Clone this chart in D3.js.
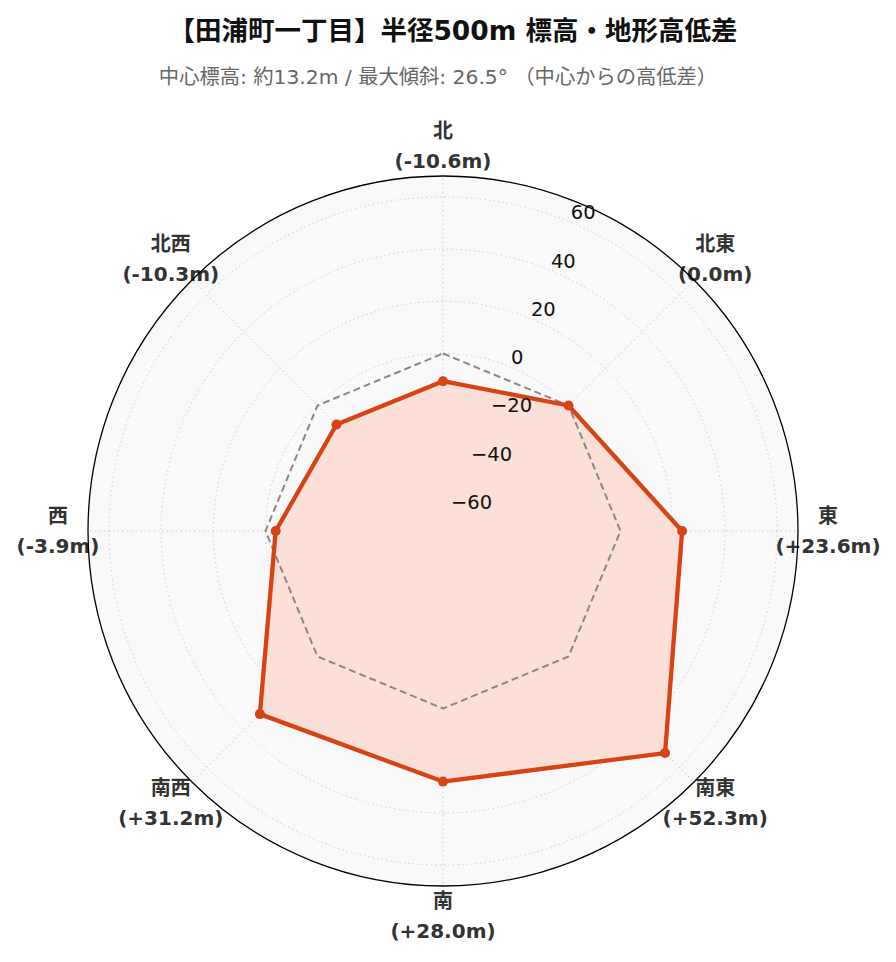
<!DOCTYPE html>
<html><head><meta charset="utf-8">
<script src="https://cdn.jsdelivr.net/npm/d3@7"></script>
<style>body{margin:0;background:#fff}</style>
</head><body>
<script>
const directions = ["北","北東","東","南東","南","南西","西","北西"];
const diffs = [-10.6, 0.0, 23.6, 52.3, 28.0, 31.2, -3.9, -10.3];
const radialTicks = [-60,-40,-20,0,20,40,60];
const titleText = "【田浦町一丁目】半径500m 標高・地形高低差";
const subtitleText = "中心標高: 約13.2m / 最大傾斜: 26.5° （中心からの高低差）";

const W = 896, H = 962;
const cx = 443, cy = 531, R = 355;
const maxAbs = d3.max(diffs, d => Math.abs(d)) * 1.3;
const font = "'DejaVu Sans','Noto Sans CJK JP',sans-serif";

const svg = d3.select("body").append("svg").attr("width", W).attr("height", H);

svg.append("text").attr("x", 453).attr("y", 40).attr("text-anchor","middle")
  .attr("font-family", font).attr("font-weight","bold")
  .attr("font-size", 26.5).attr("fill","#111").text(titleText);
svg.append("text").attr("x", 438).attr("y", 84).attr("text-anchor","middle")
  .attr("font-family", font).attr("font-size", 20.3).attr("fill","#666").text(subtitleText);

const r = d3.scaleLinear().domain([-maxAbs, maxAbs]).range([0, R]);
const ang = d3.scalePoint().domain(directions).range([0, 2*Math.PI * (directions.length-1)/directions.length]);

const g = svg.append("g").attr("transform", `translate(${cx},${cy})`);
g.append("circle").attr("r", R).attr("fill", "#f9f9f9");

// grid circles
g.selectAll(".gc").data(radialTicks).join("circle")
  .attr("r", d => r(d)).attr("fill","none").attr("stroke","#cfcfcf")
  .attr("stroke-width",1).attr("stroke-dasharray","1.5,3");
// spokes
g.selectAll(".sp").data(directions).join("line")
  .attr("x1",0).attr("y1",0)
  .attr("x2", d => R*Math.sin(ang(d))).attr("y2", d => -R*Math.cos(ang(d)))
  .attr("stroke","#cfcfcf").attr("stroke-width",1).attr("stroke-dasharray","1.5,3");

const pt = (a, v) => [r(v)*Math.sin(a), -r(v)*Math.cos(a)];

// data fill & line
const data = directions.map((d,i) => ({d, v: diffs[i]}));
const lineGen = d3.line().x(p => pt(ang(p.d), p.v)[0]).y(p => pt(ang(p.d), p.v)[1]).curve(d3.curveLinearClosed);
g.append("path").attr("d", lineGen(data)).attr("fill","#fcdfd7").attr("stroke","none");

// zero reference
const zero = directions.map(d => ({d, v: 0}));
g.append("path").attr("d", lineGen(zero)).attr("fill","none").attr("stroke","#888")
  .attr("stroke-width",2).attr("stroke-dasharray","7,4");

g.append("path").attr("d", lineGen(data)).attr("fill","none").attr("stroke","#d84315")
  .attr("stroke-width",4.3).attr("stroke-linejoin","round");
g.selectAll(".dot").data(data).join("circle")
  .attr("cx", p => pt(ang(p.d), p.v)[0]).attr("cy", p => pt(ang(p.d), p.v)[1])
  .attr("r", 5).attr("fill","#d84315");

// radial tick labels
const la = 22.5 * Math.PI/180;
g.selectAll(".rt").data(radialTicks).join("text")
  .attr("x", d => r(d)*Math.sin(la)).attr("y", d => -r(d)*Math.cos(la) - 3)
  .attr("font-family", font).attr("font-size", 19.5).attr("fill","#111")
  .text(d => d < 0 ? "\u2212" + Math.abs(d) : String(d));

// category labels
const fmt = v => "(" + (v > 0 ? "+" : "") + v.toFixed(1) + "m)";
const LR = 385;
const lab = g.selectAll(".lab").data(data).join("text")
  .attr("text-anchor","middle").attr("font-family", font).attr("font-weight","bold")
  .attr("font-size", 20).attr("fill","#333");
lab.append("tspan").attr("x", p => LR*Math.sin(ang(p.d))).attr("y", p => -LR*Math.cos(ang(p.d)) - 8)
  .text(p => p.d);
lab.append("tspan").attr("x", p => LR*Math.sin(ang(p.d))).attr("y", p => -LR*Math.cos(ang(p.d)) + 22)
  .text(p => fmt(p.v));

g.append("circle").attr("r", R).attr("fill","none").attr("stroke","#000").attr("stroke-width",1.3);
</script>
</body></html>
